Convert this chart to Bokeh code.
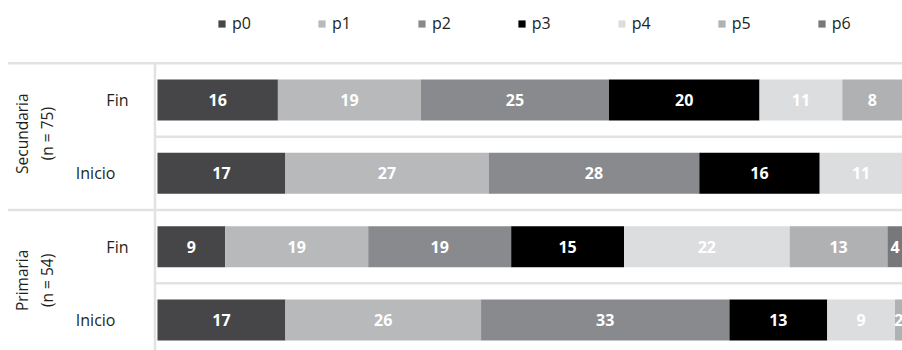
import math
from bokeh.plotting import figure
from bokeh.models import ColumnDataSource, Range1d
from bokeh.core.properties import value
from bokeh.embed import file_html
from bokeh.resources import INLINE

# ---------------- data ----------------
groups = ["Secundaria", "Primaria"]
group_n = [75, 54]
moments = ["Fin", "Inicio"]
series = ["p0", "p1", "p2", "p3", "p4", "p5", "p6"]
# rows top to bottom: Secundaria-Fin, Secundaria-Inicio, Primaria-Fin, Primaria-Inicio
p0 = [16, 17, 9, 17]
p1 = [19, 27, 19, 26]
p2 = [25, 28, 19, 33]
p3 = [20, 16, 15, 13]
p4 = [11, 11, 22, 9]
p5 = [8, 1, 13, 2]
p6 = [1, 0, 4, 0]
values = {"p0": p0, "p1": p1, "p2": p2, "p3": p3, "p4": p4, "p5": p5, "p6": p6}

# ---------------- styles ----------------
colors = ["#464648", "#b8b9bb", "#898a8d", "#000000", "#dcdddf", "#b0b1b3", "#77787b"]
FONT = "Open Sans"
TEXT_COLOR = "#231f20"
LINE_COLOR = "#e2e2e2"
moment_offset = {"Fin": -29, "Inicio": -42}
X_END = 99.0

n_rows = len(groups) * len(moments)
row_k = [n_rows - 1 - i for i in range(n_rows)]          # top row has largest k
row_group = [g for g in groups for _ in moments]
row_moment = [m for _ in groups for m in moments]

src = ColumnDataSource(dict(k=row_k, **values))

p = figure(width=902, height=350,
           x_range=Range1d(-20.86, X_END), y_range=Range1d(-0.416, 4.357),
           x_axis_type=None, y_axis_type=None,
           output_backend="svg", toolbar_location=None,
           min_border=0, outline_line_color=None,
           background_fill_color="white", border_fill_color="white")

# separator lines
ymax_rows = max(row_k) + 0.5
long_y = [ymax_rows] + [max(row_k) + 0.5 - len(moments) * (i + 1) for i in range(len(groups) - 1)]
short_y = [k - 0.5 for k in row_k if (k - 0.5) not in long_y and k - 0.5 > min(row_k) - 0.5]
p.segment(x0=[-19.87] * len(long_y), x1=[X_END] * len(long_y), y0=long_y, y1=long_y,
          line_color=LINE_COLOR, line_width=2.5)
p.segment(x0=[-0.33] * len(short_y), x1=[X_END] * len(short_y), y0=short_y, y1=short_y,
          line_color=LINE_COLOR, line_width=2.5)
p.segment(x0=[-0.33], x1=[-0.33], y0=[ymax_rows], y1=[-0.416],
          line_color=LINE_COLOR, line_width=2.5)

# stacked bars
p.hbar_stack(series, y="k", height=0.56, color=colors, line_color=None,
             source=src, legend_label=series)

# bar labels (centred on the visible part of each segment)
lx, ly, lt = [], [], []
for i in range(n_rows):
    left = 0
    for s in series:
        v = values[s][i]
        if v > 0 and left < X_END:
            lx.append((left + min(left + v, X_END)) / 2)
            ly.append(row_k[i])
            lt.append(str(v))
        left += v
p.text(x=lx, y=ly, text=lt, text_align="center", text_baseline="middle",
       text_color="white", text_font=value(FONT), text_font_size="16px",
       text_font_style="bold")

# row labels (Fin / Inicio)
p.text(x=[0] * n_rows, y=row_k, text=row_moment,
       x_offset=[moment_offset[m] for m in row_moment],
       text_align="right", text_baseline="middle", text_color=TEXT_COLOR,
       text_font=value(FONT), text_font_size="16px")

# group labels
gy = []
for g in groups:
    ks = [row_k[i] for i in range(n_rows) if row_group[i] == g]
    gy.append(sum(ks) / len(ks))
gtext = [f"{g}\n(n = {n})" for g, n in zip(groups, group_n)]
p.text(x=[-16.3] * len(groups), y=gy, text=gtext, angle=math.pi / 2,
       y_offset=-3, text_align="center", text_baseline="middle",
       text_color=TEXT_COLOR, text_font=value(FONT), text_font_size="15.5px",
       text_line_height=1.12)

# legend
lg = p.legend[0]
lg.orientation = "horizontal"
lg.location = (217, 316)
lg.glyph_width = 9
lg.glyph_height = 9
lg.label_standoff = 6
lg.label_width = 18
lg.label_height = 16
lg.spacing = 66
lg.padding = 0
lg.margin = 0
lg.border_line_color = None
lg.background_fill_alpha = 0
lg.label_text_font = FONT
lg.label_text_font_size = "16px"
lg.label_text_color = TEXT_COLOR

open("out.html", "w").write(file_html(p, INLINE))
